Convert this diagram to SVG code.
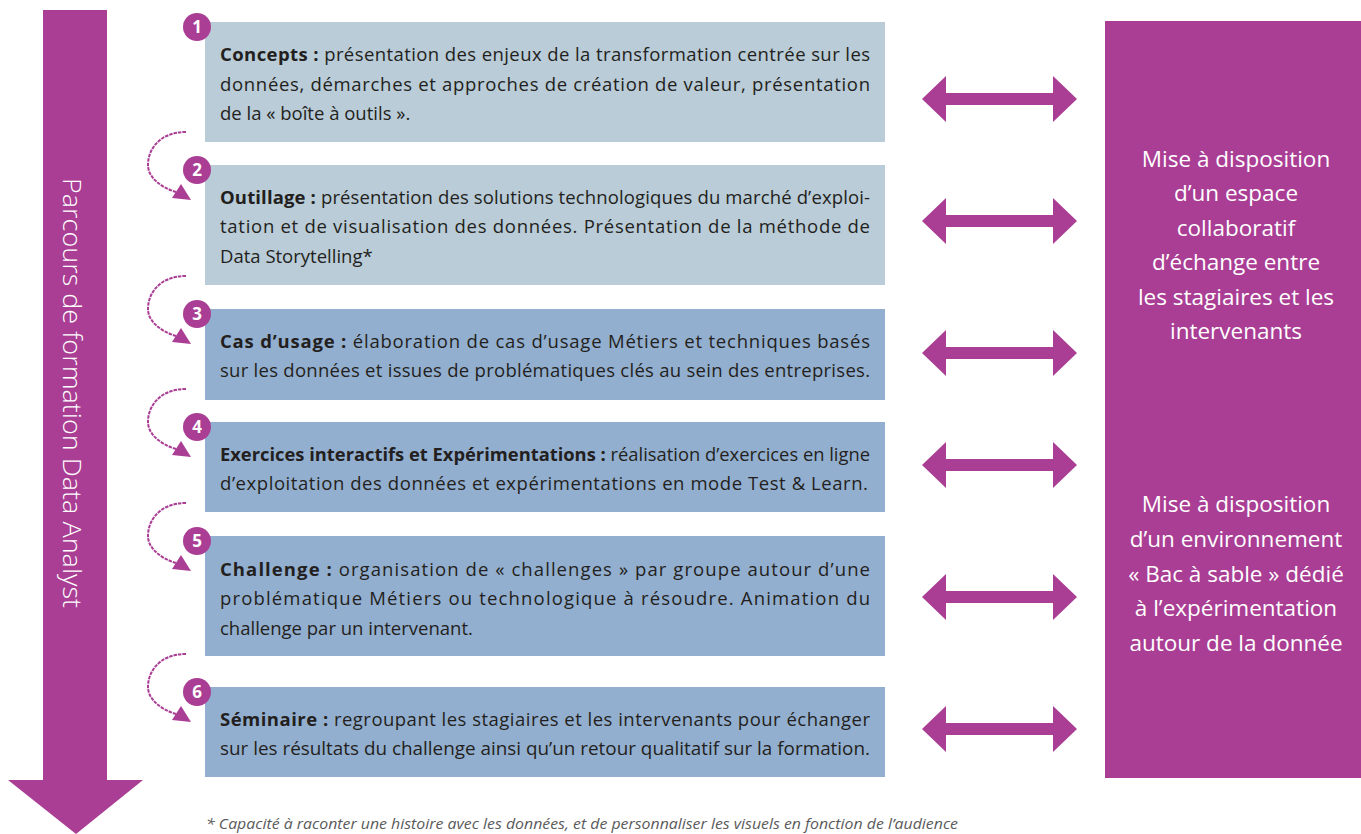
<svg xmlns="http://www.w3.org/2000/svg" xmlns:xlink="http://www.w3.org/1999/xlink" width="1361" height="834" viewBox="0 0 1361 834">
<style>
.bg{fill:#ffffff}
.pur{fill:#a93e94}
.light{fill:#b9ccd7}
.dark{fill:#93afcf}
.t{font-family:"Open Sans","Noto Sans","Liberation Sans",sans-serif;font-size:18.5px;fill:#231f20}
.b{font-weight:bold}
.num{font-family:"Open Sans","Liberation Sans",sans-serif;font-size:17px;font-weight:bold;fill:#ffffff;text-anchor:middle}
.side{font-family:"Open Sans","Noto Sans","Liberation Sans",sans-serif;font-size:22.5px;fill:#ffffff;text-anchor:middle}
.vert{font-family:"Open Sans","Noto Sans","Liberation Sans",sans-serif;font-size:25px;font-weight:300;fill:#ffffff;text-anchor:middle}
.note{font-family:"Open Sans","Noto Sans","Liberation Sans",sans-serif;font-size:15px;font-style:italic;fill:#5a5a5a}
.curl{fill:none;stroke:#a93e94;stroke-width:2;stroke-dasharray:3.5 1}
</style>
<defs>
<g id="curl">
<path class="curl" d="M186,-33 C160,-33 148,-16 148,0 C148,12 160,22 176,27"/>
<polygon class="pur" points="172,33 181,19 191,35"/>
</g>
<polygon id="dbl" class="pur" points="922,0 946,-23 946,-6 1053,-6 1053,-23 1077,0 1053,23 1053,6 946,6 946,23"/>
</defs>
<rect class="bg" x="0" y="0" width="1361" height="834"/>

<g id="main-arrow">
<rect class="pur" x="43" y="10" width="64" height="771"/>
<polygon class="pur" points="8,780 143,780 76,834"/>
<text class="vert" transform="translate(75,393) rotate(90)" x="0" y="12" textLength="430" lengthAdjust="spacingAndGlyphs">Parcours de formation Data Analyst</text>
</g>

<g id="side-panel">
<rect class="pur" x="1105" y="21" width="256" height="757"/>
<text class="side" x="1236" y="167">Mise à disposition</text>
<text class="side" x="1236" y="201">d’un espace</text>
<text class="side" x="1236" y="236">collaboratif</text>
<text class="side" x="1236" y="270">d’échange entre</text>
<text class="side" x="1236" y="305">les stagiaires et les</text>
<text class="side" x="1236" y="339">intervenants</text>
<text class="side" x="1236" y="512">Mise à disposition</text>
<text class="side" x="1236" y="547">d’un environnement</text>
<text class="side" x="1236" y="582">« Bac à sable » dédié</text>
<text class="side" x="1236" y="616">à l’expérimentation</text>
<text class="side" x="1236" y="651">autour de la donnée</text>
</g>

<g id="step1">
<rect class="light" x="205" y="22" width="680" height="120"/>
<circle class="pur" cx="197" cy="27" r="14"/>
<text class="num" x="197" y="33">1</text>
<text class="t" x="220" y="61" textLength="650" lengthAdjust="spacing"><tspan class="b">Concepts :</tspan> présentation des enjeux de la transformation centrée sur les</text>
<text class="t" x="220" y="91" textLength="650" lengthAdjust="spacing">données, démarches et approches de création de valeur, présentation</text>
<text class="t" x="220" y="120">de la « boîte à outils ».</text>
</g>

<g id="step2">
<rect class="light" x="205" y="165" width="680" height="120"/>
<circle class="pur" cx="197" cy="170" r="14"/>
<text class="num" x="197" y="176">2</text>
<text class="t" x="220" y="204" textLength="650" lengthAdjust="spacing"><tspan class="b">Outillage :</tspan> présentation des solutions technologiques du marché d’exploi-</text>
<text class="t" x="220" y="233" textLength="650" lengthAdjust="spacing">tation et de visualisation des données. Présentation de la méthode de</text>
<text class="t" x="220" y="263">Data Storytelling*</text>
</g>

<g id="step3">
<rect class="dark" x="205" y="309" width="680" height="91"/>
<circle class="pur" cx="197" cy="314" r="14"/>
<text class="num" x="197" y="320">3</text>
<text class="t" x="220" y="348" textLength="650" lengthAdjust="spacing"><tspan class="b">Cas d’usage :</tspan> élaboration de cas d’usage Métiers et techniques basés</text>
<text class="t" x="220" y="377" textLength="650" lengthAdjust="spacing">sur les données et issues de problématiques clés au sein des entreprises.</text>
</g>

<g id="step4">
<rect class="dark" x="205" y="422" width="680" height="90"/>
<circle class="pur" cx="197" cy="427" r="14"/>
<text class="num" x="197" y="433">4</text>
<text class="t" x="220" y="461" textLength="650" lengthAdjust="spacingAndGlyphs"><tspan class="b">Exercices interactifs et Expérimentations :</tspan> réalisation d’exercices en ligne</text>
<text class="t" x="220" y="490" textLength="648" lengthAdjust="spacing">d’exploitation des données et expérimentations en mode Test &amp; Learn.</text>
</g>

<g id="step5">
<rect class="dark" x="205" y="536" width="680" height="120"/>
<circle class="pur" cx="197" cy="541" r="14"/>
<text class="num" x="197" y="547">5</text>
<text class="t" x="220" y="576" textLength="650" lengthAdjust="spacing"><tspan class="b">Challenge :</tspan> organisation de « challenges » par groupe autour d’une</text>
<text class="t" x="220" y="605" textLength="650" lengthAdjust="spacing">problématique Métiers ou technologique à résoudre. Animation du</text>
<text class="t" x="220" y="635">challenge par un intervenant.</text>
</g>

<g id="step6">
<rect class="dark" x="205" y="687" width="680" height="90"/>
<circle class="pur" cx="197" cy="692" r="14"/>
<text class="num" x="197" y="698">6</text>
<text class="t" x="220" y="726" textLength="650" lengthAdjust="spacing"><tspan class="b">Séminaire :</tspan> regroupant les stagiaires et les intervenants pour échanger</text>
<text class="t" x="220" y="755" textLength="650" lengthAdjust="spacingAndGlyphs">sur les résultats du challenge ainsi qu’un retour qualitatif sur la formation.</text>
</g>

<g id="connectors">
<use xlink:href="#curl" href="#curl" x="0" y="165"/>
<use xlink:href="#curl" href="#curl" x="0" y="309"/>
<use xlink:href="#curl" href="#curl" x="0" y="422"/>
<use xlink:href="#curl" href="#curl" x="0" y="536"/>
<use xlink:href="#curl" href="#curl" x="0" y="687"/>
<use xlink:href="#dbl" href="#dbl" x="0" y="99"/>
<use xlink:href="#dbl" href="#dbl" x="0" y="221"/>
<use xlink:href="#dbl" href="#dbl" x="0" y="353"/>
<use xlink:href="#dbl" href="#dbl" x="0" y="465"/>
<use xlink:href="#dbl" href="#dbl" x="0" y="597"/>
<use xlink:href="#dbl" href="#dbl" x="0" y="729"/>
</g>

<text class="note" x="206" y="829" textLength="752" lengthAdjust="spacingAndGlyphs">*  Capacité à raconter une histoire avec les données, et de personnaliser les visuels en fonction de l’audience</text>
</svg>
